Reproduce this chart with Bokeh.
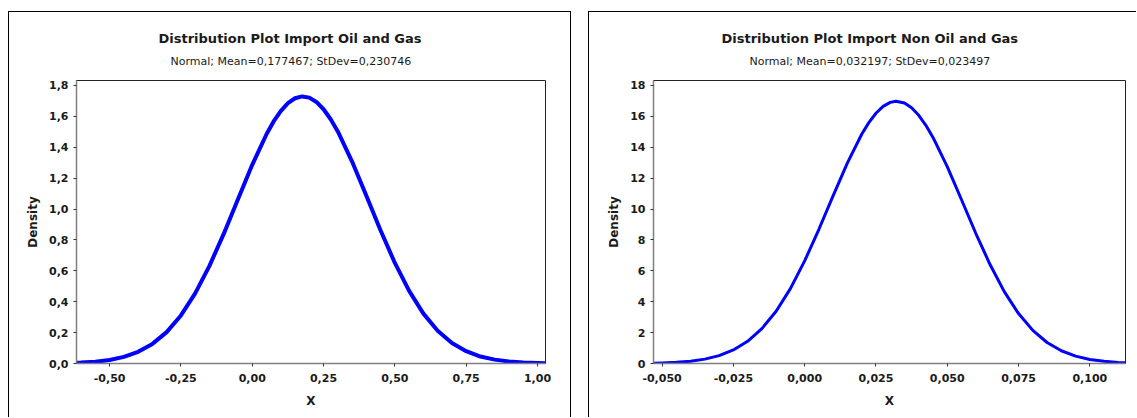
from bokeh.plotting import figure
from bokeh.models import Title, FixedTicker, Range1d
from bokeh.layouts import row
from bokeh.embed import file_html
from bokeh.resources import INLINE

# ---------------- data ----------------
oil_title = "Distribution Plot Import Oil and Gas"
oil_subtitle = "Normal; Mean=0,177467; StDev=0,230746"
oil_x = [-0.616, -0.60, -0.55, -0.50, -0.45, -0.40, -0.35, -0.30, -0.25, -0.20, -0.15,
         -0.10, -0.05, 0.00, 0.05, 0.075, 0.10, 0.125, 0.15, 0.175, 0.20, 0.225, 0.25,
         0.275, 0.30, 0.35, 0.40, 0.45, 0.50, 0.55, 0.60, 0.65, 0.70, 0.75, 0.80, 0.85,
         0.90, 0.95, 1.00, 1.028]
oil_density = [0.005, 0.006, 0.012, 0.023, 0.043, 0.076, 0.127, 0.203, 0.311, 0.454, 0.632,
               0.839, 1.064, 1.286, 1.484, 1.567, 1.634, 1.685, 1.717, 1.729, 1.721, 1.693, 1.646,
               1.581, 1.502, 1.307, 1.086, 0.861, 0.651, 0.470, 0.323, 0.212, 0.133, 0.080, 0.045, 0.025,
               0.013, 0.006, 0.003, 0.002]
oil_xticks = [-0.50, -0.25, 0.00, 0.25, 0.50, 0.75, 1.00]
oil_xlabels = ["-0,50", "-0,25", "0,00", "0,25", "0,50", "0,75", "1,00"]
oil_yticks = [0.0, 0.2, 0.4, 0.6, 0.8, 1.0, 1.2, 1.4, 1.6, 1.8]
oil_ylabels = ["0,0", "0,2", "0,4", "0,6", "0,8", "1,0", "1,2", "1,4", "1,6", "1,8"]

non_title = "Distribution Plot Import Non Oil and Gas"
non_subtitle = "Normal; Mean=0,032197; StDev=0,023497"
non_x = [-0.053, -0.050, -0.045, -0.040, -0.035, -0.030, -0.025, -0.020, -0.015, -0.010,
         -0.005, 0.000, 0.005, 0.010, 0.015, 0.020, 0.0225, 0.025, 0.0275, 0.030, 0.032,
         0.035, 0.0375, 0.040, 0.0425, 0.045, 0.050, 0.055, 0.060, 0.065, 0.070, 0.075,
         0.080, 0.085, 0.090, 0.095, 0.100, 0.105, 0.110, 0.1125]
non_density = [0.024, 0.037, 0.077, 0.151, 0.284, 0.511, 0.877, 1.440, 2.259, 3.386,
               4.850, 6.640, 8.689, 10.867, 12.989, 14.838, 15.592, 16.200, 16.642, 16.904, 16.978,
               16.858, 16.551, 16.067, 15.422, 14.636, 12.742, 10.602, 8.431, 6.408, 4.655, 3.231,
               2.144, 1.359, 0.824, 0.477, 0.264, 0.140, 0.071, 0.049]
non_xticks = [-0.050, -0.025, 0.000, 0.025, 0.050, 0.075, 0.100]
non_xlabels = ["-0,050", "-0,025", "0,000", "0,025", "0,050", "0,075", "0,100"]
non_yticks = [0, 2, 4, 6, 8, 10, 12, 14, 16, 18]
non_ylabels = ["0", "2", "4", "6", "8", "10", "12", "14", "16", "18"]

FONT = "DejaVu Sans"
TXT = "#1a1a1a"


def make_panel(title, subtitle, xs, ys, xticks, xlabels, yticks, ylabels,
               xr, yr, width, height, mleft, mright, mbottom, lw,
               title_off, sub_off, margin, border):
    p = figure(width=width, height=height, x_range=Range1d(*xr), y_range=Range1d(*yr),
               output_backend="svg", toolbar_location=None,
               min_border_left=mleft, min_border_right=mright,
               min_border_top=68, min_border_bottom=mbottom,
               margin=margin)
    p.styles = border
    p.background_fill_color = "white"
    p.border_fill_color = "white"
    p.outline_line_color = "#222222"
    p.outline_line_width = 1
    p.xgrid.visible = False
    p.ygrid.visible = False

    sub = Title(text=subtitle, align="left", text_font=FONT, text_font_size="11px",
                text_font_style="normal", text_color=TXT, offset=sub_off, standoff=26)
    main = Title(text=title, align="left", text_font=FONT, text_font_size="13px",
                 text_font_style="bold", text_color=TXT, offset=title_off, standoff=-12)
    p.add_layout(sub, "above")
    p.add_layout(main, "above")

    p.line(xs, ys, line_color="#0000ff", line_width=lw, line_join="round")

    for ax in (p.xaxis[0], p.yaxis[0]):
        ax.axis_line_color = "#808080"
        ax.axis_line_width = 1.5
        ax.major_tick_line_color = "#333333"
        ax.major_tick_in = 0
        ax.major_tick_out = 3
        ax.minor_tick_line_color = None
        ax.major_label_text_font = FONT
        ax.major_label_text_font_size = "11px"
        ax.major_label_text_font_style = "bold"
        ax.major_label_text_color = TXT
        ax.axis_label_text_font = FONT
        ax.axis_label_text_font_style = "bold"
        ax.axis_label_text_color = TXT
    p.xaxis.ticker = FixedTicker(ticks=xticks)
    p.xaxis.major_label_overrides = dict(zip(xticks, xlabels))
    p.yaxis.ticker = FixedTicker(ticks=yticks)
    p.yaxis.major_label_overrides = dict(zip(yticks, ylabels))
    p.xaxis.axis_label = "X"
    p.xaxis.axis_label_text_font_size = "12px"
    p.xaxis.major_label_standoff = 7
    p.xaxis.axis_label_standoff = 9
    p.yaxis.axis_label = "Density"
    p.yaxis.axis_label_text_font_size = "12px"
    p.yaxis.major_label_standoff = 5
    p.yaxis.axis_label_standoff = 6
    return p


left = make_panel(oil_title, oil_subtitle, oil_x, oil_density, oil_xticks, oil_xlabels,
                  oil_yticks, oil_ylabels, (-0.616, 1.028), (0, 1.832),
                  563, 406, 67, 27, 55, 4, 82, 94, (11, 0, 0, 8),
                  {"border-left": "1px solid black", "border-top": "1px solid black",
                   "border-right": "1px solid black"})
right = make_panel(non_title, non_subtitle, non_x, non_density, non_xticks, non_xlabels,
                   non_yticks, non_ylabels, (-0.053, 0.1125), (0, 18.32),
                   548, 406, 64, 12, 51, 3, 68, 96, (11, 0, 0, 0),
                   {"border-left": "1px solid black", "border-top": "1px solid black"})

p = row(left, right, spacing=17)
open("out.html", "w").write(file_html(p, INLINE))
